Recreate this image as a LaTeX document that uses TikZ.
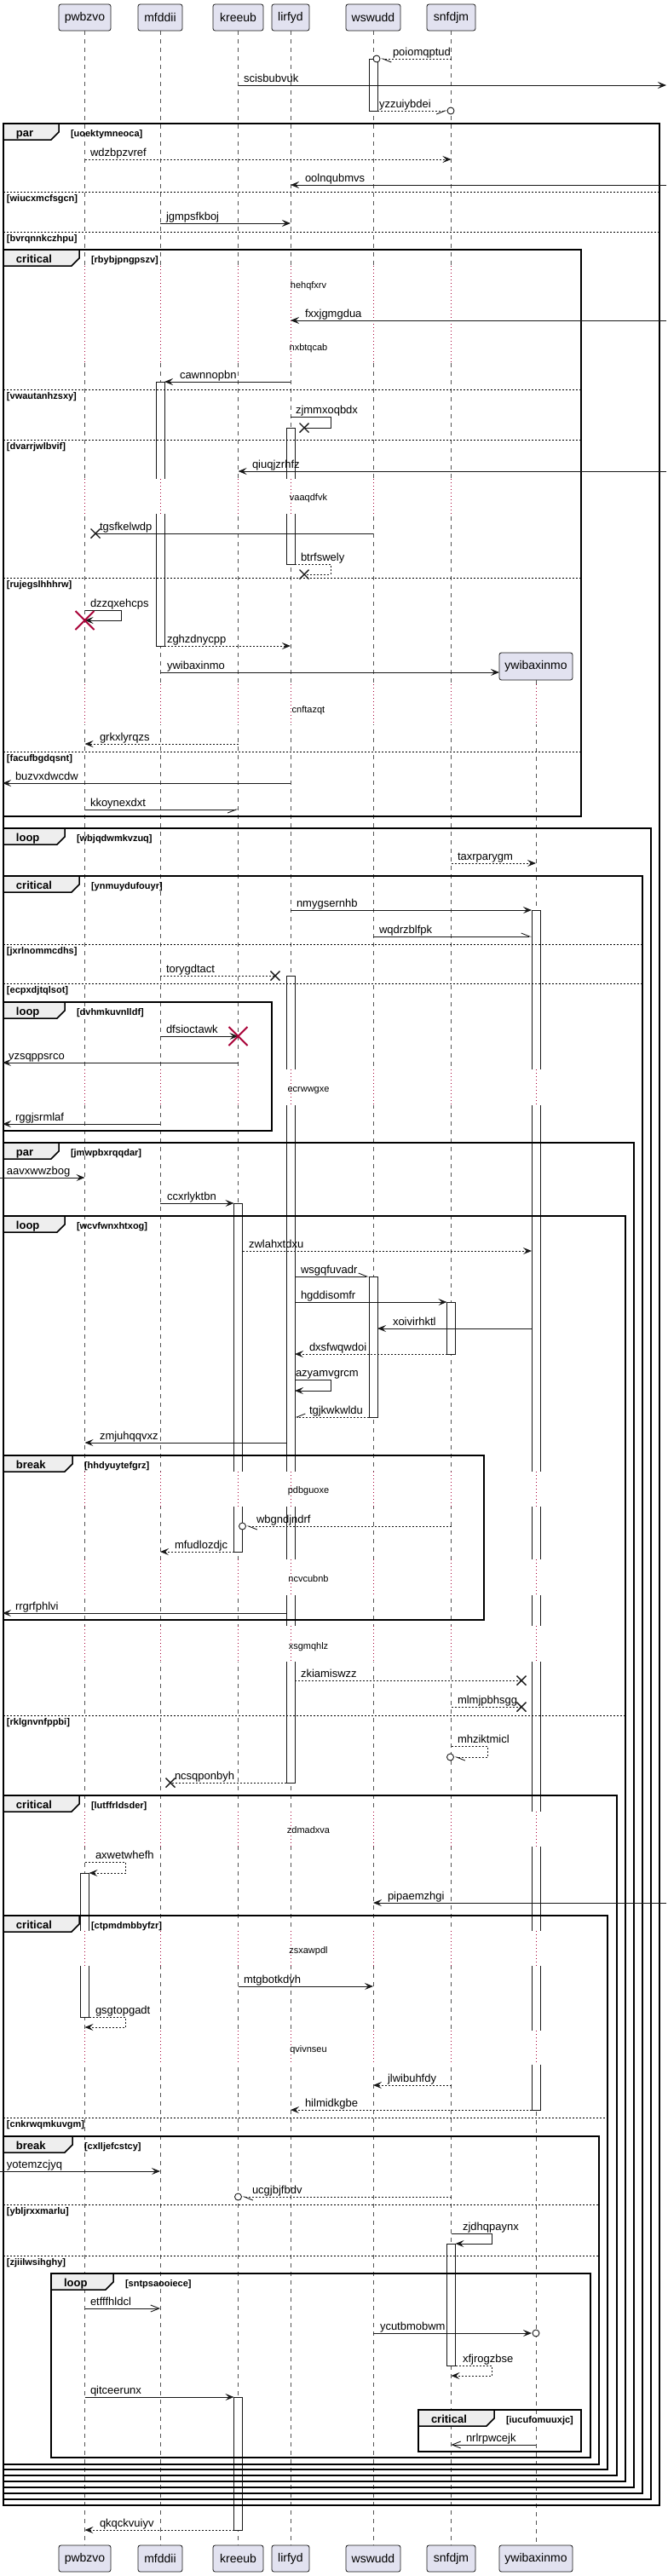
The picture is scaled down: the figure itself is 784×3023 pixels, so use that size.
\documentclass[tikz,border=0pt]{standalone}
\usepackage{fontspec}
\setmainfont{Liberation Sans}
\usetikzlibrary{arrows.meta,calc}
\definecolor{ln}{HTML}{181818}
\definecolor{pfill}{HTML}{E2E2F0}
\definecolor{tabfill}{HTML}{EEEEEE}
\definecolor{crim}{HTML}{A80036}
\definecolor{lifec}{HTML}{555555}
\tikzset{
 every node/.style={inner sep=0pt, outer sep=0pt},
 part/.style={draw=ln, fill=pfill, rounded corners=2.5pt, line width=0.8pt, minimum height=31pt, font=\fontsize{14}{16}\selectfont},
 life/.style={draw=lifec, line width=0.6pt, dash pattern=on 5pt off 5pt},
 dl/.style={draw=crim, line width=0.8pt, dash pattern=on 1pt off 3pt},
 act/.style={draw=ln, fill=white, line width=0.9pt},
 grpframe/.style={draw=black, line width=1.5pt},
 tabsh/.style={draw=black, fill=tabfill, line width=1.5pt},
 sepl/.style={draw=black, line width=0.9pt, dash pattern=on 2pt off 2pt},
 kw/.style={font=\bfseries\fontsize{13}{15}\selectfont, anchor=base west},
 glab/.style={font=\bfseries\fontsize{11}{13}\selectfont, anchor=base west},
 mlab/.style={font=\fontsize{13}{15}\selectfont, anchor=base west},
 dtext/.style={font=\fontsize{11}{13}\selectfont, anchor=base},
 msg/.style={draw=ln, line width=0.9pt},
 ret/.style={msg, dash pattern=on 2pt off 2pt},
 fa/.style={-{Stealth[length=10pt,width=8pt,inset=4pt]}},
 oa/.style={-{Straight Barb[length=10pt,width=8pt]}},
 hl/.style={-{Straight Barb[left,length=10pt,width=8pt]}},
 hr/.style={-{Straight Barb[right,length=10pt,width=8pt]}},
 xm/.style={draw=ln, line width=1.4pt},
 bigx/.style={draw=crim, line width=2pt},
 circm/.style={draw=ln, line width=0.9pt, fill=white},
}
\newcommand\xmk[2]{\draw[xm] (#1-5.5,#2-5.5) -- (#1+5.5,#2+5.5) (#1-5.5,#2+5.5) -- (#1+5.5,#2-5.5);}
\newcommand\bigxmk[2]{\draw[bigx] (#1-11,#2-11) -- (#1+11,#2+11) (#1-11,#2+11) -- (#1+11,#2-11);}
\newcommand\circmk[2]{\draw[circm] (#1,#2) circle[radius=4pt];}
\newcommand\grp[7]{%
 \draw[grpframe] (#1,#2) rectangle (#3,#4);
 \draw[tabsh] (#1,#2) -- (#5,#2) -- (#5,#2+10) -- (#5-9,#2+19) -- (#1,#2+19) -- cycle;
 \node[kw] (k-#7) at (#1+15,#2+15) {#6};
 \node[glab] (g-#7) at (#5+14,#2+15) {[#7]};
}
\newcommand\sepr[4]{\draw[sepl] (#1,#3) -- (#2,#3); \node[glab] (s-#4) at (#1+4,#3+11) {[#4]};}
\newcommand\delay[3]{\foreach \xx in {#3} {\fill[white] (\xx-6,#1) rectangle (\xx+6,#2); \draw[dl] (\xx,#1) -- (\xx,#2);}}
\begin{document}
\begin{tikzpicture}[x=1pt,y=-1pt]
\useasboundingbox (0,0) rectangle (784,3023);
% participants
\node[part, minimum width=61pt] (pwbzvo) at (99.5,20.5) {pwbzvo};
\node[part, minimum width=52pt] (mfddii) at (188,20.5) {mfddii};
\node[part, minimum width=59pt] (kreeub) at (279.5,20.5) {kreeub};
\node[part, minimum width=44pt] (lirfyd) at (341,20.5) {lirfyd};
\node[part, minimum width=64pt] (wswudd) at (438,20.5) {wswudd};
\node[part, minimum width=57pt] (snfdjm) at (529.5,20.5) {snfdjm};
\node[part, minimum width=86pt, minimum height=32pt] (ywibaxinmo) at (629,782) {ywibaxinmo};
\node[part, minimum width=61pt] (pwbzvoB) at (99.5,3002.5) {pwbzvo};
\node[part, minimum width=52pt] (mfddiiB) at (188,3002.5) {mfddii};
\node[part, minimum width=59pt] (kreeubB) at (279.5,3002.5) {kreeub};
\node[part, minimum width=44pt] (lirfydB) at (341,3002.5) {lirfyd};
\node[part, minimum width=64pt] (wswuddB) at (438,3002.5) {wswudd};
\node[part, minimum width=57pt] (snfdjmB) at (529.5,3002.5) {snfdjm};
\node[part, minimum width=86pt] (ywibaxinmoB) at (629,3002.5) {ywibaxinmo};
% lifeline coordinates
\coordinate (Lpw) at (pwbzvo.south);
\coordinate (LpwL) at ([xshift=-5pt]pwbzvo.south);
\coordinate (LpwR) at ([xshift=5pt]pwbzvo.south);
\coordinate (Lmf) at (mfddii.south);
\coordinate (LmfL) at ([xshift=-5pt]mfddii.south);
\coordinate (LmfR) at ([xshift=5pt]mfddii.south);
\coordinate (Lkr) at (kreeub.south);
\coordinate (LkrL) at ([xshift=-5pt]kreeub.south);
\coordinate (LkrR) at ([xshift=5pt]kreeub.south);
\coordinate (Lli) at (lirfyd.south);
\coordinate (LliL) at ([xshift=-5pt]lirfyd.south);
\coordinate (LliR) at ([xshift=5pt]lirfyd.south);
\coordinate (Lws) at (wswudd.south);
\coordinate (LwsL) at ([xshift=-5pt]wswudd.south);
\coordinate (LwsR) at ([xshift=5pt]wswudd.south);
\coordinate (Lsn) at (snfdjm.south);
\coordinate (LsnL) at ([xshift=-5pt]snfdjm.south);
\coordinate (LsnR) at ([xshift=5pt]snfdjm.south);
\coordinate (Lyw) at (ywibaxinmo.south);
\coordinate (LywL) at ([xshift=-5pt]ywibaxinmo.south);
\coordinate (LywR) at ([xshift=5pt]ywibaxinmo.south);
\coordinate (LE) at (3,0);
\coordinate (LE0) at (0,0);
\coordinate (RE) at (782,0);
% lifelines
\draw[life] (pwbzvo.south) -- (pwbzvoB.north);
\draw[life] (mfddii.south) -- (mfddiiB.north);
\draw[life] (kreeub.south) -- (kreeubB.north);
\draw[life] (lirfyd.south) -- (lirfydB.north);
\draw[life] (wswudd.south) -- (wswuddB.north);
\draw[life] (snfdjm.south) -- (snfdjmB.north);
\draw[life] (ywibaxinmo.south) -- (ywibaxinmoB.north);
% activations
\draw[act] (LwsL |- 0,69) rectangle (LwsR |- 0,130);
\draw[act] (LmfL |- 0,448) rectangle (LmfR |- 0,758);
\draw[act] (LliL |- 0,502) rectangle (LliR |- 0,662);
\draw[act] (LywL |- 0,1068) rectangle (LywR |- 0,2476);
\draw[act] (LliL |- 0,1145) rectangle (LliR |- 0,2092);
\draw[act] (LkrL |- 0,1412) rectangle (LkrR |- 0,1821);
\draw[act] (LwsL |- 0,1498) rectangle (LwsR |- 0,1663);
\draw[act] (LsnL |- 0,1528) rectangle (LsnR |- 0,1589);
\draw[act] (LpwL |- 0,2198) rectangle (LpwR |- 0,2367);
\draw[act] (LsnL |- 0,2633) rectangle (LsnR |- 0,2776);
\draw[act] (LkrL |- 0,2813) rectangle (LkrR |- 0,2969);
% delays
\delay{312}{425}{99.5,188,279.5,341,438,529.5}
\delay{562}{603}{99.5,188,279.5,341,438,529.5}
\delay{803}{850}{99.5,188,279.5,341,438,529.5,629}
\delay{1255}{1297}{99.5,188,279.5,341,438,529.5,629}
\delay{1727}{1768}{99.5,188,279.5,341,438,529.5,629}
\delay{1830}{1872}{99.5,188,279.5,341,438,529.5,629}
\delay{1908}{1950}{99.5,188,279.5,341,438,529.5,629}
\delay{2126}{2167}{99.5,188,279.5,341,438,529.5,629}
\delay{2266}{2307}{99.5,188,279.5,341,438,529.5,629}
\delay{2383}{2423}{99.5,188,279.5,341,438,529.5,629}
\node[dtext] (d-hehqfxrv) at (362,338) {hehqfxrv};
\node[dtext] (d-nxbtqcab) at (362,411) {nxbtqcab};
\node[dtext] (d-vaaqdfvk) at (362,587) {vaaqdfvk};
\node[dtext] (d-cnftazqt) at (362,836) {cnftazqt};
\node[dtext] (d-ecrwwgxe) at (362,1281) {ecrwwgxe};
\node[dtext] (d-pdbguoxe) at (362,1752) {pdbguoxe};
\node[dtext] (d-ncvcubnb) at (362,1856) {ncvcubnb};
\node[dtext] (d-xsgmqhlz) at (362,1935) {xsgmqhlz};
\node[dtext] (d-zdmadxva) at (362,2151) {zdmadxva};
\node[dtext] (d-zsxawpdl) at (362,2292) {zsxawpdl};
\node[dtext] (d-qvivnseu) at (362,2408) {qvivnseu};
% frames
\grp{4}{145}{774}{2940}{69}{par}{uoektymneoca}
\sepr{4}{774}{225}{wiucxmcfsgcn}
\sepr{4}{774}{272}{bvrqnnkczhpu}
\grp{4}{293}{682}{958}{93}{critical}{rbybjpngpszv}
\sepr{4}{682}{457}{vwautanhzsxy}
\sepr{4}{682}{516}{dvarrjwlbvif}
\sepr{4}{682}{678}{rujegslhhhrw}
\sepr{4}{682}{882}{facufbgdqsnt}
\grp{4}{972}{764}{2933}{76}{loop}{wbjqdwmkvzuq}
\grp{4}{1028}{754}{2926}{93}{critical}{ynmuydufouyr}
\sepr{4}{754}{1108}{jxrlnommcdhs}
\sepr{4}{754}{1154}{ecpxdjtqlsot}
\grp{4}{1176}{319}{1327}{76}{loop}{dvhmkuvnlldf}
\grp{4}{1341}{744}{2919}{69}{par}{jmwpbxrqqdar}
\grp{4}{1427}{734}{2912}{76}{loop}{wcvfwnxhtxog}
\grp{4}{1708}{568}{1901}{85}{break}{hhdyuytefgrz}
\sepr{4}{734}{2013}{rklgnvnfppbi}
\grp{4}{2107}{724}{2905}{93}{critical}{lutffrldsder}
\grp{4}{2248}{713}{2898}{93}{critical}{ctpmdmbbyfzr}
\sepr{4}{713}{2485}{cnkrwqmkuvgm}
\grp{4}{2507}{703}{2892}{85}{break}{cxlljefcstcy}
\sepr{4}{703}{2587}{ybljrxxmarlu}
\sepr{4}{703}{2647}{zjiilwsihghy}
\grp{60}{2668}{693}{2884}{133}{loop}{sntpsaooiece}
\grp{491}{2828}{682}{2877}{580}{critical}{iucufomuuxjc}
% messages
\draw[ret,hl] (Lsn |- 0,69) -- ($(LwsR |- 0,69)+(4,0)$); \circmk{442}{69}
\node[mlab] (m-poiomqptud) at (461,65) {poiomqptud};
\draw[msg,fa] (Lkr |- 0,100) -- (RE |- 0,100);
\node[mlab] (m-scisbubvuk) at (286,96) {scisbubvuk};
\draw[ret,hr] (LwsR |- 0,130) -- ($(Lsn |- 0,130)+(-5,0)$); \circmk{529}{130}
\node[mlab] (m-yzzuiybdei) at (445,126) {yzzuiybdei};
\draw[ret,fa] (Lpw |- 0,187) -- (Lsn |- 0,187);
\node[mlab] (m-wdzbpzvref) at (106,183) {wdzbpzvref};
\draw[msg,fa] (RE |- 0,217) -- (Lli |- 0,217);
\node[mlab] (m-oolnqubmvs) at (358,213) {oolnqubmvs};
\draw[msg,fa] (Lmf |- 0,262) -- (Lli |- 0,262);
\node[mlab] (m-jgmpsfkboj) at (195,258) {jgmpsfkboj};
\draw[msg,fa] (RE |- 0,376) -- (Lli |- 0,376);
\node[mlab] (m-fxxjgmgdua) at (358,372) {fxxjgmgdua};
\draw[msg,fa] (Lli |- 0,448) -- (LmfR |- 0,448);
\node[mlab] (m-cawnnopbn) at (211,444) {cawnnopbn};
\draw[msg] (Lli |- 0,489) -- (388,489) -- (388,502) -- (357,502); \xmk{357}{502}
\node[mlab] (m-zjmmxoqbdx) at (347,485) {zjmmxoqbdx};
\draw[msg,fa] (RE |- 0,553) -- (Lkr |- 0,553);
\node[mlab] (m-qiuqjzrhfz) at (296,549) {qiuqjzrhfz};
\draw[msg] (Lws |- 0,626) -- (112,626); \xmk{112}{626}
\node[mlab] (m-tgsfkelwdp) at (117,622) {tgsfkelwdp};
\draw[ret] (LliR |- 0,662) -- (388,662) -- (388,674) -- (357,674); \xmk{357}{674}
\node[mlab] (m-btrfswely) at (353,658) {btrfswely};
\draw[msg,fa] (Lpw |- 0,716) -- (142,716) -- (142,728) -- (Lpw |- 0,728); \bigxmk{99.5}{728}
\node[mlab] (m-dzzqxehcps) at (106,712) {dzzqxehcps};
\draw[ret,fa] (LmfR |- 0,758) -- (Lli |- 0,758);
\node[mlab] (m-zghzdnycpp) at (196,754) {zghzdnycpp};
\draw[msg,fa] (Lmf |- 0,789) -- (ywibaxinmo.west |- 0,789);
\node[mlab] (m-ywibaxinmo) at (196,785) {ywibaxinmo};
\draw[ret,fa] (Lkr |- 0,873) -- (Lpw |- 0,873);
\node[mlab] (m-grkxlyrqzs) at (117,869) {grkxlyrqzs};
\draw[msg,fa] (Lli |- 0,919) -- (LE |- 0,919);
\node[mlab] (m-buzvxdwcdw) at (18,915) {buzvxdwcdw};
\draw[msg,hr] (Lpw |- 0,950) -- (Lkr |- 0,950);
\node[mlab] (m-kkoynexdxt) at (106,946) {kkoynexdxt};
\draw[ret,fa] (Lsn |- 0,1013) -- (Lyw |- 0,1013);
\node[mlab] (m-taxrparygm) at (537,1009) {taxrparygm};
\draw[msg,fa] (Lli |- 0,1068) -- (LywL |- 0,1068);
\node[mlab] (m-nmygsernhb) at (348,1064) {nmygsernhb};
\draw[msg,hl] (Lws |- 0,1099) -- (LywL |- 0,1099);
\node[mlab] (m-wqdrzblfpk) at (445,1095) {wqdrzblfpk};
\draw[ret] (Lmf |- 0,1145) -- (323,1145); \xmk{323}{1145}
\node[mlab] (m-torygdtact) at (195,1141) {torygdtact};
\draw[msg,fa] (Lmf |- 0,1216) -- (Lkr |- 0,1216); \bigxmk{279.5}{1216}
\node[mlab] (m-dfsioctawk) at (195,1212) {dfsioctawk};
\draw[msg,fa] (Lkr |- 0,1247) -- (LE |- 0,1247);
\node[mlab] (m-vzsqppsrco) at (10,1243) {vzsqppsrco};
\draw[msg,fa] (Lmf |- 0,1319) -- (LE |- 0,1319);
\node[mlab] (m-rggjsrmlaf) at (18,1315) {rggjsrmlaf};
\draw[msg,fa] (LE0 |- 0,1382) -- (Lpw |- 0,1382);
\node[mlab] (m-aavxwwzbog) at (8,1378) {aavxwwzbog};
\draw[msg,fa] (Lmf |- 0,1412) -- (LkrL |- 0,1412);
\node[mlab] (m-ccxrlyktbn) at (196,1408) {ccxrlyktbn};
\draw[ret,fa] (LkrR |- 0,1468) -- (LywL |- 0,1468);
\node[mlab] (m-zwlahxtdxu) at (292,1464) {zwlahxtdxu};
\draw[msg,hl] (LliR |- 0,1498) -- (LwsL |- 0,1498);
\node[mlab] (m-wsgqfuvadr) at (353,1494) {wsgqfuvadr};
\draw[msg,fa] (LliR |- 0,1528) -- (LsnL |- 0,1528);
\node[mlab] (m-hgddisomfr) at (353,1524) {hgddisomfr};
\draw[msg,fa] (LywL |- 0,1559) -- (LwsR |- 0,1559);
\node[mlab] (m-xoivirhktl) at (461,1555) {xoivirhktl};
\draw[ret,fa] (LsnL |- 0,1589) -- (LliR |- 0,1589);
\node[mlab] (m-dxsfwqwdoi) at (363,1585) {dxsfwqwdoi};
\draw[msg,fa] (LliR |- 0,1619) -- (388,1619) -- (388,1632) -- (LliR |- 0,1632);
\node[mlab] (m-azyamvgrcm) at (347,1615) {azyamvgrcm};
\draw[ret,hr] (LwsL |- 0,1663) -- (LliR |- 0,1663);
\node[mlab] (m-tgjkwkwldu) at (363,1659) {tgjkwkwldu};
\draw[msg,fa] (LliL |- 0,1693) -- (Lpw |- 0,1693);
\node[mlab] (m-zmjuhqqvxz) at (117,1689) {zmjuhqqvxz};
\draw[ret,hl] (Lsn |- 0,1791) -- ($(LkrR |- 0,1791)+(5,0)$); \circmk{284.5}{1791}
\node[mlab] (m-wbgndjndrf) at (301,1787) {wbgndjndrf};
\draw[ret,fa] (LkrL |- 0,1821) -- (Lmf |- 0,1821);
\node[mlab] (m-mfudlozdjc) at (205,1817) {mfudlozdjc};
\draw[msg,fa] (LliL |- 0,1893) -- (LE |- 0,1893);
\node[mlab] (m-rrgrfphlvi) at (18,1889) {rrgrfphlvi};
\draw[ret] (LliR |- 0,1972) -- (612,1972); \xmk{612}{1972}
\node[mlab] (m-zkiamiswzz) at (353,1968) {zkiamiswzz};
\draw[ret] (Lsn |- 0,2003) -- (612,2003); \xmk{612}{2003}
\node[mlab] (m-mlmjpbhsgg) at (537,1999) {mlmjpbhsgg};
\draw[ret,hl] (Lsn |- 0,2049) -- (572,2049) -- (572,2062) -- ($(Lsn |- 0,2062)+(4,0)$); \circmk{528.5}{2062}
\node[mlab] (m-mhziktmicl) at (537,2045) {mhziktmicl};
\draw[ret] (LliL |- 0,2092) -- (200,2092); \xmk{200}{2092}
\node[mlab] (m-ncsqponbyh) at (205,2088) {ncsqponbyh};
\draw[ret,fa] (Lpw |- 0,2185) -- (147,2185) -- (147,2198) -- (LpwR |- 0,2198);
\node[mlab] (m-axwetwhefh) at (112,2181) {axwetwhefh};
\draw[msg,fa] (RE |- 0,2233) -- (Lws |- 0,2233);
\node[mlab] (m-pipaemzhgi) at (455,2229) {pipaemzhgi};
\draw[msg,fa] (Lkr |- 0,2331) -- (Lws |- 0,2331);
\node[mlab] (m-mtgbotkdvh) at (286,2327) {mtgbotkdvh};
\draw[ret,fa] (LpwR |- 0,2367) -- (147,2367) -- (147,2379) -- (Lpw |- 0,2379);
\node[mlab] (m-gsgtopgadt) at (112,2363) {gsgtopgadt};
\draw[ret,fa] (Lsn |- 0,2447) -- (Lws |- 0,2447);
\node[mlab] (m-jlwibuhfdy) at (455,2443) {jlwibuhfdy};
\draw[ret,fa] (LywL |- 0,2476) -- (Lli |- 0,2476);
\node[mlab] (m-hilmidkgbe) at (358,2472) {hilmidkgbe};
\draw[msg,fa] (LE0 |- 0,2548) -- (Lmf |- 0,2548);
\node[mlab] (m-yotemzcjyq) at (8,2544) {yotemzcjyq};
\draw[ret,hl] (Lsn |- 0,2578) -- ($(Lkr |- 0,2578)+(5,0)$); \circmk{279.5}{2578}
\node[mlab] (m-ucgjbjfbdv) at (296,2574) {ucgjbjfbdv};
\draw[msg,fa] (Lsn |- 0,2621) -- (577,2621) -- (577,2633) -- (LsnR |- 0,2633);
\node[mlab] (m-zjdhqpaynx) at (543,2617) {zjdhqpaynx};
\draw[msg,oa] (Lpw |- 0,2709) -- (Lmf |- 0,2709);
\node[mlab] (m-etfffhldcl) at (106,2705) {etfffhldcl};
\draw[msg,fa] (Lws |- 0,2738) -- ($(Lyw |- 0,2738)+(-5,0)$); \circmk{629}{2738}
\node[mlab] (m-ycutbmobwm) at (446,2734) {ycutbmobwm};
\draw[ret,fa] (LsnR |- 0,2776) -- (577,2776) -- (577,2788) -- (Lsn |- 0,2788);
\node[mlab] (m-xfjrogzbse) at (543,2772) {xfjrogzbse};
\draw[msg,fa] (Lpw |- 0,2813) -- (LkrL |- 0,2813);
\node[mlab] (m-qitceerunx) at (106,2809) {qitceerunx};
\draw[msg,oa] (Lyw |- 0,2869) -- (Lsn |- 0,2869);
\node[mlab] (m-nrlrpwcejk) at (547,2865) {nrlrpwcejk};
\draw[ret,fa] (LkrL |- 0,2969) -- (Lpw |- 0,2969);
\node[mlab] (m-qkqckvuiyv) at (117,2965) {qkqckvuiyv};
\end{tikzpicture}
\end{document}
